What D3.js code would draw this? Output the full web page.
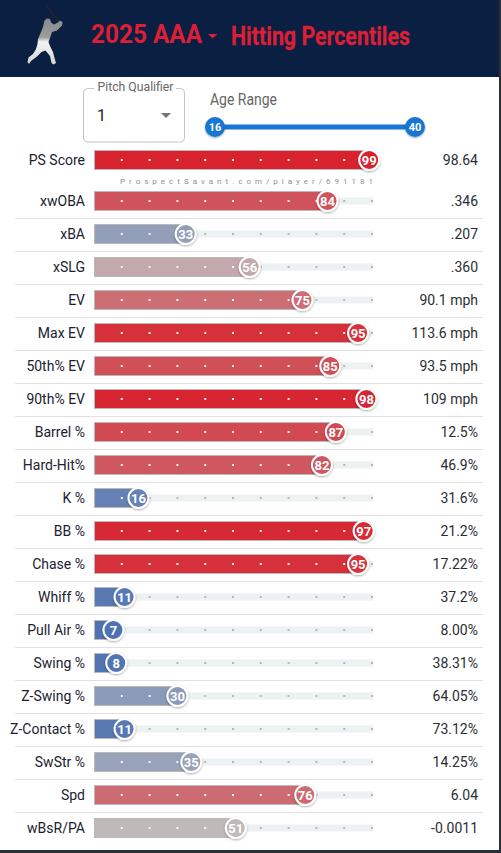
<!DOCTYPE html>
<html>
<head>
<meta charset="utf-8">
<title>2025 AAA Hitting Percentiles</title>
<script src="https://cdn.jsdelivr.net/npm/d3@7"></script>
<style>
  html, body { margin: 0; padding: 0; background: #2a2f36; overflow: hidden; }
  svg { display: block; font-family: Roboto, sans-serif; }
</style>
</head>
<body>
<svg id="chart" width="501" height="853"></svg>
<script>
// Player percentile table
const metrics = ["PS Score","xwOBA","xBA","xSLG","EV","Max EV","50th% EV","90th% EV","Barrel %","Hard-Hit%","K %","BB %","Chase %","Whiff %","Pull Air %","Swing %","Z-Swing %","Z-Contact %","SwStr %","Spd","wBsR/PA"];
const percentiles = [99,84,33,56,75,95,85,98,87,82,16,97,95,11,7,8,30,11,35,76,51];
const statValues = ["98.64",".346",".207",".360","90.1 mph","113.6 mph","93.5 mph","109 mph","12.5%","46.9%","31.6%","21.2%","17.22%","37.2%","8.00%","38.31%","64.05%","73.12%","14.25%","6.04","-0.0011"];
const ageRange = [16, 40];
const tickValues = [10,20,30,40,50,60,70,80,90,100];

const svg = d3.select("#chart");
const navy = "#0a1f41", crimson = "#dc1f36";

const x = d3.scaleLinear().domain([0, 100]).range([94, 372]);
const y = d3.scalePoint().domain(metrics).range([168, 828]);
const rowY = m => y(m) - (m === metrics[0] ? 8 : 0);
const color = d3.scaleLinear().domain([0, 50, 100]).range(["#3c66b1", "#c0bcbc", "#d8202c"]);

// Page panel and banner
svg.append("rect").attr("width", 499).attr("height", 850).attr("fill", "#fff");
svg.append("rect").attr("width", 499).attr("height", 77).attr("fill", navy);

const defs = svg.append("defs");
const grad = defs.append("linearGradient").attr("id", "batter").attr("gradientUnits", "userSpaceOnUse")
  .attr("x1", 0).attr("y1", 18).attr("x2", 0).attr("y2", 64);
grad.append("stop").attr("offset", "0%").attr("stop-color", "#8a8a8a");
grad.append("stop").attr("offset", "42%").attr("stop-color", "#9c9c9c");
grad.append("stop").attr("offset", "52%").attr("stop-color", "#f4f4f4");
grad.append("stop").attr("offset", "100%").attr("stop-color", "#d4d4d4");
const shadow = defs.append("filter").attr("id", "knobShadow").attr("x", "-40%").attr("y", "-40%").attr("width", "180%").attr("height", "180%");
shadow.append("feDropShadow").attr("dx", 0).attr("dy", 1).attr("stdDeviation", 1.2).attr("flood-color", "#000").attr("flood-opacity", 0.35);

// Batter emblem: bat, then body, arms and legs
svg.append("line").attr("x1", 47).attr("y1", 6).attr("x2", 58).attr("y2", 21)
  .attr("stroke", "#262626").attr("stroke-width", 1.5).attr("stroke-linecap", "round");
svg.append("path")
  .attr("d", "M44.5 20.5 L47 18.5 L50 19 L51 22.5 L54 24.5 L58 22.5 L60 20.5 L62.5 22 L62 25.5 L57 30.5 L52 32 L50 38 L48.5 42 L50 46 L53 52 L54.5 58 L56 63 L53.5 64.5 L51.5 63 L50 56 L45.5 50.5 L41.5 52 L37 56.5 L31 61 L29 64 L27.5 62 L28.5 57.5 L33 54 L36 49 L37.5 44 L38 39 L41 32 L43 27 Z")
  .attr("fill", "url(#batter)");

// Banner titles
svg.append("text").attr("x", 91).attr("y", 43).attr("fill", crimson)
  .attr("font-size", 25).attr("font-weight", 700).attr("textLength", 111).attr("lengthAdjust", "spacingAndGlyphs").text("2025 AAA");
svg.append("path").attr("d", d3.line()([[208, 34], [217.5, 34], [212.7, 38.5]]) + "Z").attr("fill", crimson);
svg.append("text").attr("x", 231).attr("y", 45).attr("fill", crimson)
  .attr("font-size", 26).attr("font-weight", 700).attr("stroke", crimson).attr("stroke-width", 0.3)
  .attr("textLength", 179).attr("lengthAdjust", "spacingAndGlyphs").text("Hitting Percentiles");

// Pitch qualifier select box
svg.append("path")
  .attr("d", "M94 88.5 H87.5 A4 4 0 0 0 83.5 92.5 V138 A4 4 0 0 0 87.5 142 H180.5 A4 4 0 0 0 184.5 138 V92.5 A4 4 0 0 0 180.5 88.5 H176")
  .attr("fill", "none").attr("stroke", "#c4c4c4");
svg.append("text").attr("x", 97.5).attr("y", 91).attr("fill", "#666").attr("font-size", 12)
  .attr("textLength", 76).attr("lengthAdjust", "spacingAndGlyphs").text("Pitch Qualifier");
svg.append("text").attr("x", 97).attr("y", 121).attr("fill", "#222").attr("font-size", 16).text("1");
svg.append("path").attr("d", d3.line()([[161, 113], [171, 113], [166, 118]]) + "Z").attr("fill", "#757575");

// Age range slider
const ageX = d3.scaleLinear().domain(ageRange).range([215, 415]);
svg.append("text").attr("x", 210).attr("y", 105).attr("fill", "#666").attr("font-size", 17)
  .attr("textLength", 67).attr("lengthAdjust", "spacingAndGlyphs").text("Age Range");
svg.append("line").attr("x1", ageX(ageRange[0])).attr("x2", ageX(ageRange[1])).attr("y1", 127).attr("y2", 127)
  .attr("stroke", "#1976d2").attr("stroke-width", 5);
const handles = svg.selectAll("g.handle").data(ageRange).join("g").attr("class", "handle")
  .attr("transform", d => `translate(${ageX(d)},127)`);
handles.append("circle").attr("r", 10).attr("fill", "#1976d2").attr("filter", "url(#knobShadow)");
handles.append("text").attr("text-anchor", "middle").attr("dy", 4).attr("fill", "#fff")
  .attr("font-size", 11).attr("font-weight", 700).text(d => d);

// Site and player watermark under the first row
svg.append("text").attr("x", 120).attr("y", 184).attr("fill", "#8f8f95").attr("font-size", 8)
  .attr("textLength", 253).attr("lengthAdjust", "spacing").text("ProspectSavant.com/player/691181");

// Row separators
svg.selectAll("line.sep").data(metrics.slice(2)).join("line").attr("class", "sep")
  .attr("x1", 15).attr("x2", 483)
  .attr("y1", d => rowY(d) - 15.5).attr("y2", d => rowY(d) - 15.5)
  .attr("stroke", "#e0e0e0");

const rows = svg.selectAll("g.row").data(metrics.map((m, i) => ({ m, p: percentiles[i], v: statValues[i] })))
  .join("g").attr("class", "row").attr("transform", d => `translate(0,${rowY(d.m)})`);

rows.append("text").attr("x", 85).attr("dy", 5).attr("text-anchor", "end")
  .attr("fill", "#1a2230").attr("font-size", 14).text(d => d.m);
rows.append("text").attr("x", 478).attr("dy", 5).attr("text-anchor", "end")
  .attr("fill", "#2a2e34").attr("font-size", 14).text(d => d.v);

// Track behind each bar
rows.append("rect").attr("x", x(0)).attr("y", -3.5).attr("width", x(100) - x(0) + 1).attr("height", 7).attr("fill", "#ecf2f1");

// Percentile bar
rows.append("rect").attr("x", x(0) + 0.5).attr("y", -9.5).attr("height", 19)
  .attr("width", d => x(d.p) - x(0))
  .attr("fill", d => color(d.p)).attr("stroke", "#b9b9b9").attr("stroke-width", 1);

// Tick dots: white on the bar, grey on the track
rows.each(function (d) {
  d3.select(this).selectAll("rect.tick").data(tickValues).join("rect").attr("class", "tick")
    .attr("x", t => x(t) - 1).attr("y", -1).attr("width", 2).attr("height", 2)
    .attr("fill", t => t <= d.p ? "#f4f4f4" : "#b4b8b8");
});

// Percentile knob
const knobs = rows.append("g").attr("transform", d => `translate(${x(d.p)},0)`);
knobs.append("circle").attr("r", 10).attr("fill", d => color(d.p)).attr("stroke", "#fff").attr("stroke-width", 2)
  .attr("filter", "url(#knobShadow)");
knobs.append("text").attr("text-anchor", "middle").attr("dy", 4.6).attr("fill", "#fff")
  .attr("font-size", 13).attr("font-weight", 700).text(d => d.p);
</script>
</body>
</html>
